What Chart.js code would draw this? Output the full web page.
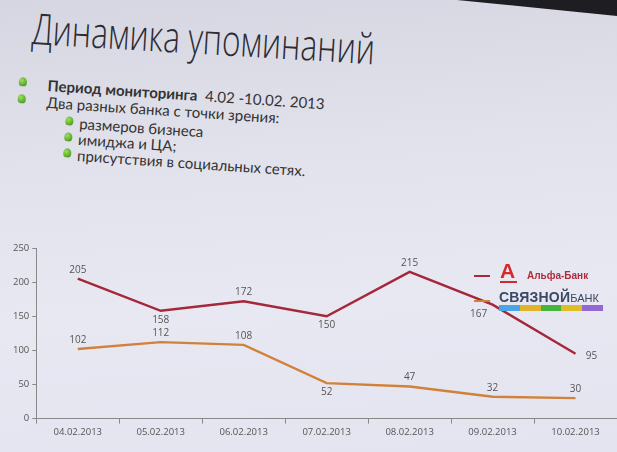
<!DOCTYPE html>
<html><head><meta charset="utf-8">
<script src="https://cdn.jsdelivr.net/npm/chart.js@4/dist/chart.umd.min.js"></script>
<style>
html,body{margin:0;padding:0;}
body{width:617px;height:452px;overflow:hidden;position:relative;
 background:linear-gradient(176deg,#d6d6e2 0%,#e2e2ec 35%,#e8e8f3 65%,#e4e4f0 100%);
 font-family:"Lato",sans-serif;color:#333;}
#corner{position:absolute;right:0;top:0;width:0;height:0;border-top:16px solid #1e1e22;border-left:160px solid transparent;}
#title{position:absolute;left:34px;top:-2px;font-family:"Open Sans",sans-serif;font-weight:300;font-size:43px;color:#2c2c34;white-space:nowrap;transform:rotate(3.4deg) scaleX(0.74);transform-origin:left top;}
#bul{position:absolute;left:0;top:0;width:617px;height:200px;transform:rotate(3.8deg);transform-origin:19px 80px;}
.b{position:absolute;font-family:"Lato",sans-serif;font-size:15px;color:#333;white-space:nowrap;line-height:17px;}
.dot{position:absolute;width:8px;height:9px;border-radius:50% 50% 40% 40%;background:radial-gradient(circle at 35% 35%,#9be05a,#3c8a1a);}
#wrap{position:absolute;left:0;top:230px;width:617px;height:222px;}
.leg{position:absolute;white-space:nowrap;}
</style></head><body>
<div id="corner"></div>
<div id="title">Динамика упоминаний</div>
<div id="bul">
<div class="dot" style="left:19px;top:77px"></div>
<div class="b" style="left:48px;top:75px"><b>Период мониторинга</b>&nbsp; 4.02 -10.02. 2013</div>
<div class="dot" style="left:19px;top:94px"></div>
<div class="b" style="left:48px;top:92px">Два разных банка с точки зрения:</div>
<div class="dot" style="left:68px;top:113px"></div>
<div class="b" style="left:82px;top:111px">размеров бизнеса</div>
<div class="dot" style="left:68px;top:129px"></div>
<div class="b" style="left:82px;top:127px">имиджа и ЦА;</div>
<div class="dot" style="left:68px;top:145px"></div>
<div class="b" style="left:82px;top:143px">присутствия в социальных сетях.</div>
</div>
<div id="wrap"><canvas id="c" width="617" height="222"></canvas></div>

<div class="leg" style="left:474px;top:275px;width:16px;height:2px;background:#a8283c"></div>
<div class="leg" style="left:500px;top:260px;font-family:'Liberation Sans',sans-serif;font-weight:bold;font-size:21px;color:#d42a2a;line-height:21px">А</div>
<div class="leg" style="left:500px;top:281px;width:17px;height:2px;background:#d42a2a"></div>
<div class="leg" style="left:527px;top:270px;font-family:'Liberation Sans',sans-serif;font-weight:bold;font-size:10px;color:#b02c3c">Альфа-Банк</div>
<div class="leg" style="left:474px;top:300px;width:16px;height:2px;background:#d08038"></div>
<div class="leg" style="left:499px;top:291px;font-family:'Liberation Sans',sans-serif;font-size:11px;color:#3a4862;line-height:13px"><b style="font-size:14px;letter-spacing:0.2px">СВЯЗНОЙ</b>БАНК</div>
<div class="leg" style="left:499px;top:305px;height:6px;width:104px;display:flex">
 <span style="flex:1;background:#4aa4e6"></span><span style="flex:1;background:#e0b428"></span><span style="flex:1;background:#48b440"></span><span style="flex:1;background:#e0bc28"></span><span style="flex:1;background:#9468d4"></span>
</div>

<script>
const categories = ["04.02.2013","05.02.2013","06.02.2013","07.02.2013","08.02.2013","09.02.2013","10.02.2013"];
const alfaValues = [205,158,172,150,215,167,95];
const svyaznoyValues = [102,112,108,52,47,32,30];
const yTicks = [0,50,100,150,200,250];
const alfaLabelPos = ["above","below","above","below","above","belowleft","right"];
const svLabelPos = ["above","above","above","below","above","above","above"];

const labelPlugin = {
  id:'lbl',
  afterDatasetsDraw(chart){
    const ctx = chart.ctx;
    ctx.save();
    ctx.font = '10px "Open Sans", sans-serif';
    ctx.fillStyle = '#555';
    ctx.textAlign = 'center';
    chart.data.datasets.forEach((ds,di)=>{
      const meta = chart.getDatasetMeta(di);
      const pos = di===0 ? alfaLabelPos : svLabelPos;
      meta.data.forEach((pt,i)=>{
        let x = pt.x, y = pt.y;
        if(pos[i]==='above'){ctx.textBaseline='bottom'; y-=4;}
        else if(pos[i]==='below'){ctx.textBaseline='top'; y+=4;}
        else if(pos[i]==='belowleft'){ctx.textBaseline='top'; x-=14; y+=5;}
        else {ctx.textBaseline='middle'; x+=16; y+=2;}
        ctx.fillText(String(ds.data[i]), x, y);
      });
    });
    ctx.restore();
  }
};

new Chart(document.getElementById('c'),{
  type:'line',
  data:{labels:categories,datasets:[
    {label:'Альфа-Банк',data:alfaValues,borderColor:'#a5283a',borderWidth:2.4,pointRadius:0,tension:0},
    {label:'Связной Банк',data:svyaznoyValues,borderColor:'#d2813a',borderWidth:2.4,pointRadius:0,tension:0}
  ]},
  options:{
    responsive:false,animation:false,
    layout:{padding:{top:18,right:0,left:10,bottom:11}},
    plugins:{legend:{display:false},tooltip:{enabled:false}},
    scales:{
      x:{offset:true,
        grid:{display:true,drawOnChartArea:false,offset:true,color:'#888',tickLength:5},
        border:{color:'#888',width:1},
        ticks:{color:'#555',font:{size:9.5,family:'"Open Sans", sans-serif'},maxRotation:0,padding:3}},
      y:{min:0,max:250,
        afterBuildTicks(ax){ax.ticks = yTicks.map(v=>({value:v}));},
        grid:{display:true,drawOnChartArea:false,color:'#888',tickLength:4},
        border:{color:'#888',width:1},
        ticks:{color:'#555',font:{size:9.5,family:'"Open Sans", sans-serif'},padding:3}}
    }
  },
  plugins:[labelPlugin]
});
</script>
</body></html>
